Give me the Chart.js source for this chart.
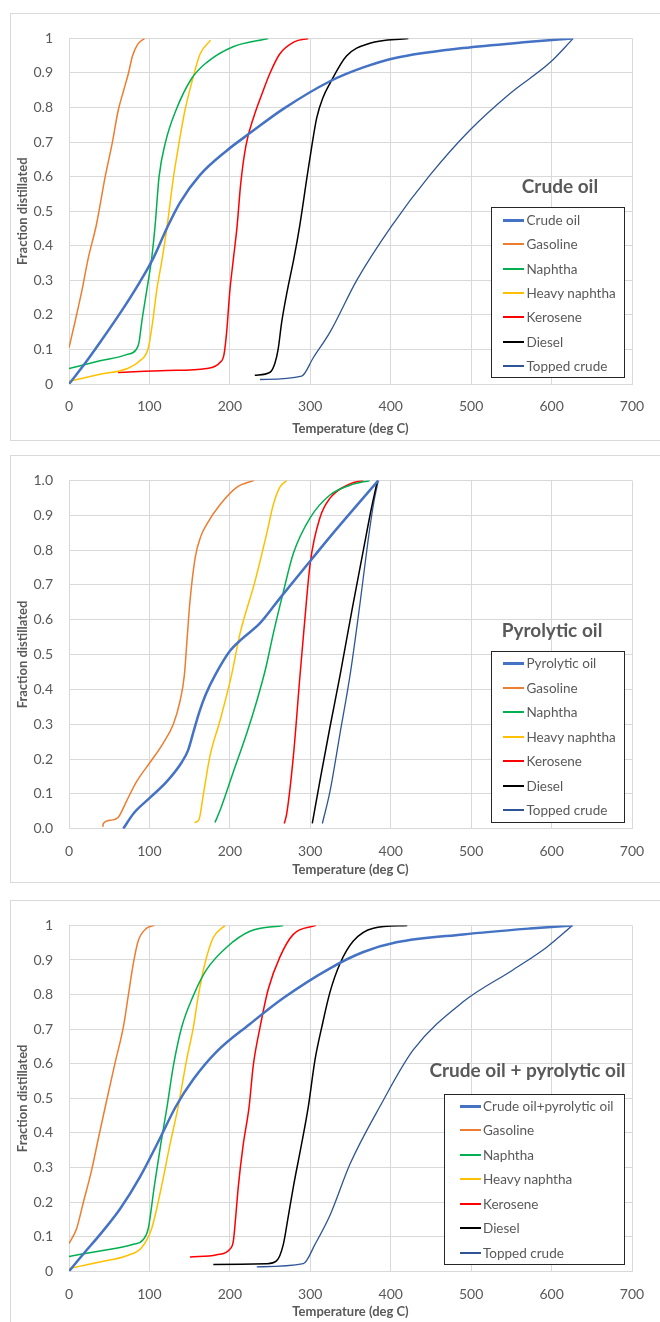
<!DOCTYPE html>
<html>
<head>
<meta charset="utf-8">
<script src="https://cdn.jsdelivr.net/npm/chart.js@4.4.0/dist/chart.umd.min.js"></script>
<style>
  body { margin: 0; background: #fff; width: 660px; height: 1322px; overflow: hidden; position: relative; font-family: Lato, "Open Sans", sans-serif; }
  .panel { position: absolute; left: 10px; width: 680px; height: 428px; border: 1px solid #d9d9d9; box-sizing: border-box; }
  .panel canvas { position: absolute; left: 0; top: 0; }
  .ttl { position: absolute; font-weight: bold; font-size: 19px; color: #595959; white-space: nowrap; transform: translate(-50%, -50%); }
  .lg { position: absolute; border: 1.3px solid #262626; background: #fff; box-sizing: border-box; }
  .lg .row { position: absolute; height: 20px; line-height: 20px; font-size: 13.5px; color: #595959; white-space: nowrap; }
  .lg .mark { position: absolute; }
</style>
</head>
<body>
<div class="panel" style="top:13px"><canvas id="c1" width="660" height="426"></canvas></div>
<div class="panel" style="top:455px"><canvas id="c2" width="660" height="426"></canvas></div>
<div class="panel" style="top:900px"><canvas id="c3" width="660" height="426"></canvas></div>

<script>
// tick labels
const xLabels = ["0", "100", "200", "300", "400", "500", "600", "700"];
const yLabelsPlain = ["0", "0.1", "0.2", "0.3", "0.4", "0.5", "0.6", "0.7", "0.8", "0.9", "1"];
const yLabelsFixed = ["0.0", "0.1", "0.2", "0.3", "0.4", "0.5", "0.6", "0.7", "0.8", "0.9", "1.0"];

// series names (first one differs per panel)
const cutNames = ["Gasoline", "Naphtha", "Heavy naphtha", "Kerosene", "Diesel", "Topped crude"];
const panelTitles = ["Crude oil", "Pyrolytic oil", "Crude oil + pyrolytic oil"];
const feedNames = ["Crude oil", "Pyrolytic oil", "Crude oil+pyrolytic oil"];

// [temperature degC, fraction distilled]
// panel 1 - crude oil
const p1Feed = [[0,0],[20,0.06],[40,0.125],[65,0.21],[88,0.295],[105,0.365],[121.5,0.45],[138,0.525],[163,0.605],[196,0.675],[225,0.726],[266.5,0.796],[324.5,0.876],[366,0.916],[407,0.944],[490,0.972],[573,0.99],[626,1.0]];
const p1Gasoline = [[0,0.105],[7.5,0.18],[16,0.27],[24,0.365],[34,0.46],[45,0.6],[54,0.7],[61,0.79],[68,0.85],[74,0.9],[79,0.95],[86,0.985],[94,1.0]];
const p1Naphtha = [[0,0.045],[38.5,0.067],[71.7,0.085],[83.3,0.099],[87,0.12],[90.5,0.18],[96.6,0.27],[102.8,0.364],[107,0.457],[112,0.6],[120,0.7],[132.6,0.79],[152.5,0.884],[171,0.93],[204,0.976],[247.7,1.0]];
const p1Heavy = [[0,0.008],[38.5,0.028],[71.7,0.044],[88,0.067],[98.6,0.104],[104,0.18],[109,0.27],[116,0.364],[122,0.457],[130,0.6],[137,0.7],[144,0.79],[154.6,0.89],[163,0.955],[176,0.995]];
const p1Kerosene = [[61,0.033],[121.5,0.039],[171,0.045],[187.7,0.062],[192.7,0.085],[196,0.15],[200,0.27],[204.5,0.364],[209,0.457],[213.5,0.58],[220,0.69],[230,0.775],[240,0.84],[250,0.9],[262,0.955],[280,0.99],[297.6,1.0]];
const p1Diesel = [[231,0.025],[250,0.034],[256,0.06],[260,0.1],[264.4,0.178],[271.5,0.271],[279.7,0.364],[287,0.46],[296,0.6],[302,0.69],[308,0.77],[316,0.83],[324.5,0.87],[345,0.949],[374,0.986],[422,1.0]];
const p1Topped = [[237.5,0.013],[289.3,0.023],[303.7,0.076],[324.5,0.15],[357.7,0.3],[401,0.457],[449,0.605],[498.6,0.735],[548,0.84],[598,0.93],[627,1.0]];

// panel 2 - pyrolytic oil
const p2Feed = [[67.5,0],[80,0.043],[100.7,0.089],[121.5,0.135],[140,0.19],[148,0.225],[155,0.28],[162,0.335],[170,0.385],[181.5,0.44],[200,0.51],[215,0.545],[237.5,0.59],[262.3,0.662],[299.7,0.768],[324.5,0.838],[384.6,1.0]];
const p2Gasoline = [[42,0.005],[42.7,0.015],[51,0.024],[61.3,0.033],[71.7,0.08],[84,0.135],[100.7,0.19],[117.2,0.246],[129.7,0.3],[138,0.366],[143.4,0.44],[147,0.55],[150.4,0.653],[157,0.78],[164,0.84],[171.2,0.874],[187.7,0.93],[208.5,0.98],[230,1.0]];
const p2Heavy = [[156,0.018],[161.6,0.026],[167,0.098],[175.3,0.209],[187.7,0.31],[202,0.44],[212.6,0.56],[231,0.708],[245.8,0.847],[254,0.93],[262,0.98],[270.7,1.0]];
const p2Naphtha = [[181.5,0.018],[187.7,0.052],[204.3,0.163],[221,0.274],[233.4,0.366],[244.5,0.46],[254,0.56],[266.5,0.68],[278.9,0.79],[300,0.893],[324.5,0.958],[349.4,0.986],[374,1.0]];
const p2Kerosene = [[267.7,0.015],[270.7,0.043],[279,0.209],[287.2,0.44],[291.7,0.56],[300,0.764],[312,0.893],[324.5,0.949],[349.4,0.99],[366,1.0]];
const p2Diesel = [[302.5,0.015],[313,0.15],[324.5,0.292],[337,0.44],[352,0.63],[366,0.8],[376,0.92],[383.5,1.0]];
const p2Topped = [[315,0.015],[324.5,0.107],[337,0.274],[349.4,0.44],[362,0.65],[372,0.83],[378.4,0.93],[384.6,1.0]];

// panel 3 - crude oil + pyrolytic oil
const p3Feed = [[0,0],[17.8,0.05],[38.5,0.106],[63.4,0.18],[88.3,0.273],[113,0.384],[132.5,0.475],[154.6,0.555],[183.6,0.635],[225,0.715],[266.5,0.79],[324.5,0.876],[366,0.923],[407,0.951],[490,0.974],[573,0.991],[626,1.0]];
const p3Gasoline = [[0,0.08],[9.5,0.124],[17.8,0.199],[28,0.291],[36.5,0.384],[45.5,0.48],[57.2,0.602],[67.5,0.705],[73.7,0.797],[80,0.89],[86,0.955],[96.6,0.992],[106.6,1.0]];
const p3Naphtha = [[0,0.043],[38.5,0.059],[80,0.078],[92.4,0.092],[98.6,0.124],[106,0.245],[114,0.366],[122,0.477],[129.7,0.593],[140,0.705],[154.6,0.797],[171,0.872],[196,0.937],[225,0.983],[266.5,1.0]];
const p3Heavy = [[0,0.008],[38.5,0.027],[71.7,0.045],[90.4,0.069],[102.8,0.124],[115,0.245],[125.5,0.366],[135.8,0.477],[146.3,0.612],[154.6,0.705],[160.8,0.797],[169,0.89],[179.4,0.965],[194,1.0]];
const p3Kerosene = [[150.4,0.041],[183.6,0.048],[200,0.064],[204.3,0.087],[207,0.15],[210.5,0.245],[216.6,0.366],[224,0.477],[229,0.593],[237.5,0.705],[247.8,0.816],[262.3,0.909],[278.9,0.974],[307,1.0]];
const p3Diesel = [[179.4,0.02],[245.8,0.022],[258,0.03],[266.5,0.078],[272,0.15],[279,0.245],[289,0.366],[297.6,0.477],[305.9,0.612],[314.2,0.705],[324.5,0.807],[337,0.89],[353.5,0.955],[378.4,0.992],[420.6,1.0]];
const p3Topped = [[233.4,0.013],[291.3,0.022],[305.9,0.078],[324.5,0.162],[349.4,0.31],[386.7,0.477],[428,0.64],[490,0.779],[552.4,0.872],[594,0.937],[626,1.0]];

const colors = ["#4472C4", "#ED7D31", "#00B050", "#FFC000", "#FF0000", "#000000", "#2F5597"];
const widths = [2.5, 1.5, 1.5, 1.5, 1.5, 1.5, 1.3];
const gray = "#595959";
const gridColor = "#d9d9d9";

// page-space layout of each panel (canvas origin = panel top + 1)
const panels = [
  { id: "c1", canvasTop: 14, areaTop: 25, areaBottom: 384, titleY: 429, yLabels: yLabelsPlain,
    data: [p1Feed, p1Gasoline, p1Naphtha, p1Heavy, p1Kerosene, p1Diesel, p1Topped],
    head: { x: 560, y: 185 }, legend: { left: 491, top: 207, width: 134, height: 171, row0: 12.6, lineX: 11, textX: 34.5 } },
  { id: "c2", canvasTop: 456, areaTop: 468, areaBottom: 828.7, titleY: 870, yLabels: yLabelsFixed,
    data: [p2Feed, p2Gasoline, p2Naphtha, p2Heavy, p2Kerosene, p2Diesel, p2Topped],
    head: { x: 552, y: 629 }, legend: { left: 491, top: 651, width: 134, height: 172, row0: 12.3, lineX: 11, textX: 34.5 } },
  { id: "c3", canvasTop: 901, areaTop: 912.3, areaBottom: 1271.3, titleY: 1312, yLabels: yLabelsPlain,
    data: [p3Feed, p3Gasoline, p3Naphtha, p3Heavy, p3Kerosene, p3Diesel, p3Topped],
    head: { x: 527.5, y: 1069 }, legend: { left: 444, top: 1094, width: 181, height: 171, row0: 12, lineX: 15, textX: 38 } },
];

const canvasLeft = 11, canvasH = 426;
const areaLeft = 69, areaRight = 632;
const tickFont = { family: "Lato", size: 14 };
const titleFont = { family: "Lato", size: 13, weight: "bold", lineHeight: 1.2 };

panels.forEach((p, k) => {
  const names = [feedNames[k]].concat(cutNames);
  const datasets = p.data.map((pts, i) => ({
    label: names[i],
    data: pts.map(([x, y]) => ({ x, y })),
    borderColor: colors[i],
    borderWidth: widths[i],
    showLine: true,
    pointRadius: 0,
    fill: false,
    cubicInterpolationMode: "monotone",
  }));

  const xAxisH = canvasH - (p.areaBottom - p.canvasTop);
  const xTitlePad = (p.canvasTop + canvasH) - p.titleY - 13 * 1.2 / 2;

  new Chart(document.getElementById(p.id), {
    type: "scatter",
    data: { datasets },
    options: {
      responsive: false,
      animation: false,
      events: [],
      layout: { padding: { top: p.areaTop - p.canvasTop, right: 660 - (areaRight - canvasLeft), left: 0, bottom: 0 } },
      plugins: { legend: { display: false }, tooltip: { enabled: false } },
      scales: {
        x: {
          type: "linear", min: 0, max: 700,
          ticks: { stepSize: 100, font: tickFont, color: gray, padding: 14.5, maxRotation: 0, callback: (v, i) => xLabels[i] },
          grid: { color: gridColor, drawTicks: false },
          border: { color: gridColor },
          title: { display: true, text: "Temperature (deg C)", font: titleFont, color: gray, padding: { top: 0, bottom: xTitlePad } },
          afterFit: (s) => { s.height = xAxisH; },
        },
        y: {
          type: "linear", min: 0, max: 1,
          ticks: { stepSize: 0.1, font: tickFont, color: gray, padding: 16, callback: (v, i) => p.yLabels[i] },
          grid: { color: gridColor, drawTicks: false },
          border: { color: gridColor },
          title: { display: true, text: "Fraction distillated", font: titleFont, color: gray, padding: { top: 4, bottom: 0 } },
          afterFit: (s) => { s.width = areaLeft - canvasLeft; },
        },
      },
    },
  });

  // in-plot heading
  const h = document.createElement("div");
  h.className = "ttl";
  h.textContent = panelTitles[k];
  h.style.left = p.head.x + "px";
  h.style.top = p.head.y + "px";
  document.body.appendChild(h);

  // legend box
  const L = p.legend;
  const box = document.createElement("div");
  box.className = "lg";
  Object.assign(box.style, { left: L.left + "px", top: L.top + "px", width: L.width + "px", height: L.height + "px" });
  names.forEach((name, i) => {
    const row = document.createElement("div");
    row.className = "row";
    row.style.left = "0px";
    row.style.top = Math.round(L.row0 + i * 24.45 - 11) + "px";
    const mh = i === 0 ? 3 : 2;
    const mark = document.createElement("span");
    mark.className = "mark";
    Object.assign(mark.style, { left: L.lineX + "px", top: (10 - Math.floor(mh / 2)) + "px", width: "21px", height: mh + "px", background: colors[i] });
    const txt = document.createElement("span");
    txt.style.position = "absolute";
    txt.style.left = L.textX + "px";
    txt.textContent = name;
    row.appendChild(mark);
    row.appendChild(txt);
    box.appendChild(row);
  });
  document.body.appendChild(box);
});
</script>
</body>
</html>
